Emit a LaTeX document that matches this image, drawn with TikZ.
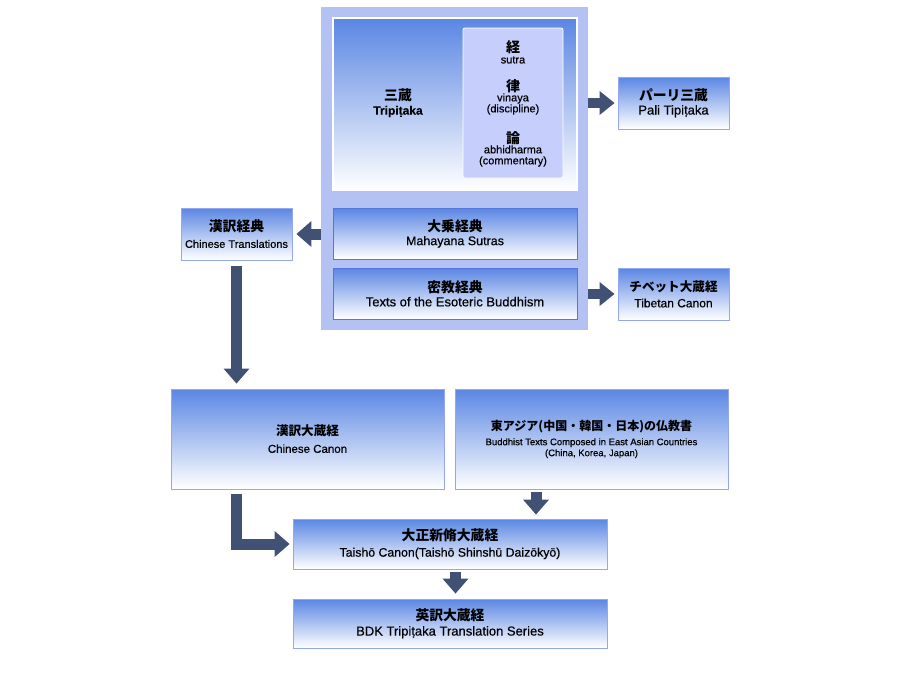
\documentclass[tikz,border=0pt]{standalone}
\usepackage{fontspec}
\setmainfont{Liberation Sans}[FakeBold=0.4]
\newfontfamily\jp{Noto Sans CJK JP}
\usetikzlibrary{arrows.meta}
\definecolor{gtop}{HTML}{5A86E3}
\definecolor{panelc}{HTML}{B3C1F3}
\definecolor{colc}{HTML}{C6CEFB}
\definecolor{arrowc}{HTML}{415174}
\definecolor{outline}{HTML}{93A8EE}
\definecolor{inline}{HTML}{5577DD}
\newcommand\jt[1]{{\jp\bfseries\fontsize{13.8}{15}\selectfont #1}}
\newcommand\js[1]{{\jp\bfseries\fontsize{12.6}{15}\selectfont #1}}
\newcommand\je[1]{{\jp\bfseries\fontsize{12}{15}\selectfont #1}}
\newcommand\jc[1]{{\jp\bfseries\fontsize{14}{15}\selectfont #1}}
\tikzset{
  outbox/.style={draw=outline, line width=0.8pt, top color=gtop, bottom color=white, align=center, inner sep=0pt},
  inbox/.style={draw=inline, line width=0.8pt, top color=gtop, bottom color=white, align=center, inner sep=0pt},
  txt/.style={align=center, inner sep=0pt, font=\fontsize{12}{15}\selectfont},
  fat/.style={draw=arrowc, line width=11pt, -{Triangle[width=25pt,length=15pt]}},
  fatr/.style={draw=arrowc, line width=9.5pt, -{Triangle[width=23pt,length=15pt]}}
}
\begin{document}
\begin{tikzpicture}[x=1pt,y=-1pt]
\useasboundingbox (0,0) rectangle (900,680);
\fill[white] (0,0) rectangle (900,680);

% panel
\node[fill=panelc, draw=none, minimum width=267pt, minimum height=323pt, inner sep=0pt] (panel) at (454.5,168.5) {};
\node[draw=white, line width=1.2pt, top color=gtop, bottom color=white, minimum width=244pt, minimum height=172pt, inner sep=0pt] (tri) at (455,104) {};
\node[fill=colc, draw=white, line width=0.8pt, rounded corners=2pt, minimum width=100pt, minimum height=150pt, inner sep=0pt] (col) at (513,103) {};
\node[txt, font=\bfseries\fontsize{12}{14}\selectfont] (tritext) at (398,103) {\jt{三蔵}\\Tripiṭaka};
\node[txt, font=\fontsize{11}{12}\selectfont] (sutra) at (513,52) {\jc{経}\\[-1pt]sutra};
\node[txt, font=\fontsize{11}{11}\selectfont] (vinaya) at (513,97) {\jc{律}\\[-1pt]vinaya\\(discipline)};
\node[txt, font=\fontsize{11}{11}\selectfont] (abhi) at (513,149) {\jc{論}\\[-1pt]abhidharma\\(commentary)};

\node[inbox, minimum width=244pt, minimum height=51pt, font=\fontsize{12.5}{14}\selectfont] (maha) at (455,233.5) {\jt{大乗経典}\\Mahayana Sutras};
\node[inbox, minimum width=244pt, minimum height=51pt, font=\fontsize{13}{14}\selectfont] (eso) at (455,293.5) {\jt{密教経典}\\Texts of the Esoteric Buddhism};

% side boxes
\node[outbox, minimum width=111pt, minimum height=52pt, font=\fontsize{13}{14}\selectfont] (pali) at (673.5,103) {\jt{パーリ三蔵}\\Pali Tipiṭaka};
\node[outbox, minimum width=111pt, minimum height=52pt, font=\fontsize{12}{16}\selectfont] (tib) at (673.5,294) {\js{チベット大蔵経}\\Tibetan Canon};
\node[outbox, minimum width=111pt, minimum height=52pt, font=\fontsize{11}{16}\selectfont] (ct) at (236.5,234) {\jt{漢訳経典}\\Chinese Translations};

% lower boxes
\node[outbox, minimum width=273pt, minimum height=100pt, font=\fontsize{11.5}{17}\selectfont] (cc) at (307.5,439) {\js{漢訳大蔵経}\\Chinese Canon};
\node[outbox, minimum width=273pt, minimum height=100pt, font=\fontsize{9.5}{15}\selectfont] (ea) at (591.5,439) {\je{東アジア(中国・韓国・日本)の仏教書}\\Buddhist Texts Composed in East Asian Countries\\[-4pt](China, Korea, Japan)};
\node[outbox, minimum width=314pt, minimum height=50pt, font=\fontsize{12.3}{16}\selectfont] (taisho) at (450,544) {\jt{大正新脩大蔵経}\\Taishō Canon(Taishō Shinshū Daizōkyō)};
\node[outbox, minimum width=314pt, minimum height=49pt, font=\fontsize{13}{15}\selectfont] (bdk) at (450,623.5) {\jt{英訳大蔵経}\\BDK Tripiṭaka Translation Series};

% connectors
\coordinate (eax) at (536,0);
\coordinate (bdkx) at (455.5,0);
\draw[fatr, shorten >=3pt] (panel.east |- pali.west) -- (pali.west);
\draw[fatr, shorten >=3pt] (panel.east |- tib.west) -- (tib.west);
\draw[fat, shorten >=4pt] (panel.west |- ct.east) -- (ct.east);
\draw[fat, shorten <=6pt, shorten >=5pt] (ct.south) -- (ct.south |- cc.north);
\draw[fat, shorten <=5pt, shorten >=3pt] (ct.south |- cc.south) |- (taisho.west);
\draw[fat, shorten <=3pt, shorten >=4pt] (ea.south -| eax) -- (taisho.north -| eax);
\draw[fat, shorten <=3pt, shorten >=5pt] (taisho.south -| bdkx) -- (bdk.north -| bdkx);
\end{tikzpicture}
\end{document}
